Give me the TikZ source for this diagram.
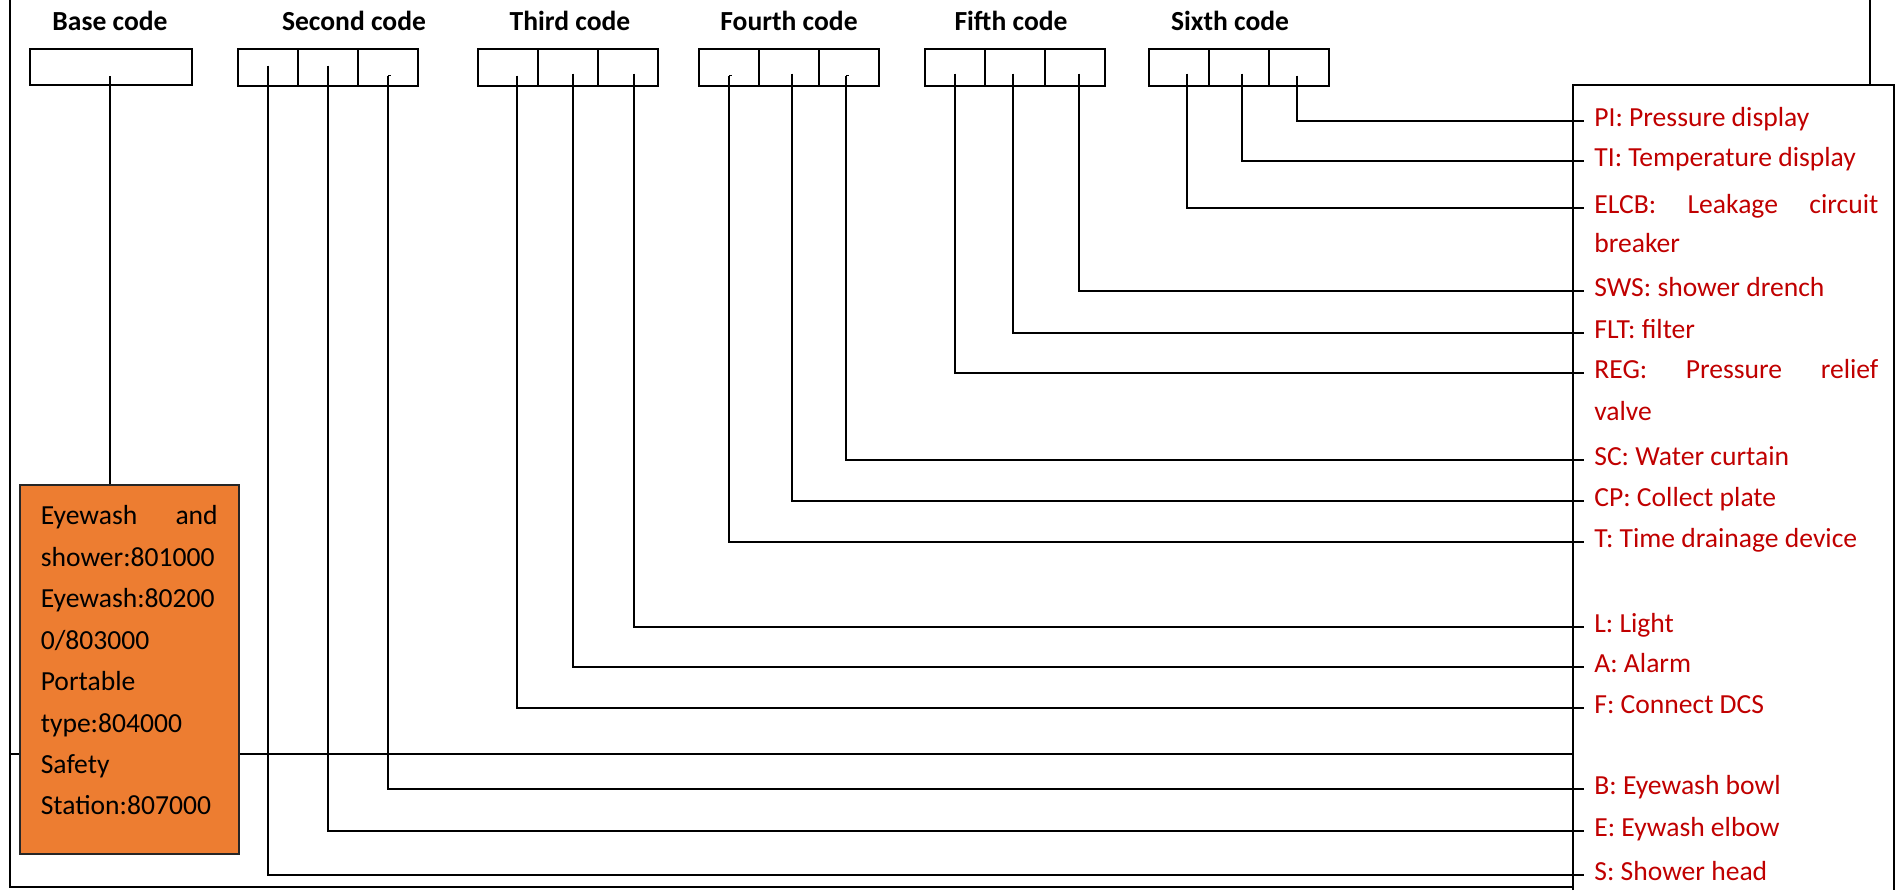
\documentclass[tikz,border=0pt]{standalone}
\usepackage{fontspec}
\setmainfont{Carlito}
\usetikzlibrary{positioning}
\definecolor{OptionRed} {HTML}{C00000}
\definecolor{BaseOrange}{HTML}{ED7D31}
\tikzset{
  codecell/.style={draw,line width=1.1pt,minimum width=1.2cm,minimum height=0.74cm,inner sep=0pt},
  codehead/.style={font=\fontsize{15.7}{23.6}\selectfont\bfseries,anchor=base},
  option/.style={text=OptionRed,anchor=west,inner xsep=0.2cm,inner ysep=0pt,
                 text height=0.8em,text depth=0.14em},
  lead/.style={line width=1.1pt},
  frame/.style={line width=1.1pt}
}
\begin{document}
\begin{tikzpicture}[x=0.02cm,y=-0.02cm,font=\fontsize{15.7}{23.6}\selectfont]
  \useasboundingbox (0,0) rectangle (1903,890);
  % table frame
  \draw[frame] (1870,0) -- (1870,85);
  \draw[frame] (10,0) -- (10,887) -- (1573,887);
  \draw[frame] (10,754) -- (1573,754);
  \draw[frame] (1573,890) -- (1573,85) -- (1894,85) -- (1894,890);

  % headers
  \node[codehead] (hbase) at (110,30)  {Base code};
  \node[codehead] (hsec)  at (354,30)  {Second code};
  \node[codehead] (hthi)  at (570,30)  {Third code};
  \node[codehead] (hfou)  at (789,30)  {Fourth code};
  \node[codehead] (hfif)  at (1011,30) {Fifth code};
  \node[codehead] (hsix)  at (1230,30) {Sixth code};

  % code cells
  \node[codecell,minimum width=3.24cm,minimum height=0.72cm] (base) at (111,67) {};
  \foreach \grp/\x in {sec/238,thi/478,fou/699,fif/925,six/1149}
    \foreach \i in {1,2,3}
      \node[codecell] (\grp\i) at (\x+60*\i-30,67.5) {};

  % options
  \node[option] (pi)    at (1584,121) {PI: Pressure display};
  \node[option] (ti)    at (1584,161) {TI: Temperature display};
  \node[option,text width=5.68cm,align=left] (elcb) at (1584,208) {ELCB:\hfill Leakage\hfill circuit};
  \node[option] (elcbmore) at (1584,247) {breaker};
  \node[option] (sws)   at (1584,291) {SWS: shower drench};
  \node[option] (flt)   at (1584,333) {FLT: filter};
  \node[option,text width=5.68cm,align=left] (reg) at (1584,373) {REG:\hfill Pressure\hfill relief};
  \node[option] (regmore) at (1584,415) {valve};
  \node[option] (sc)    at (1584,460) {SC: Water curtain};
  \node[option] (cp)    at (1584,501) {CP: Collect plate};
  \node[option] (tdd)   at (1584,542) {T: Time drainage device};
  \node[option] (light) at (1584,627) {L: Light};
  \node[option] (alarm) at (1584,667) {A: Alarm};
  \node[option] (dcs)   at (1584,708) {F: Connect DCS};
  \node[option] (bowl)  at (1584,789) {B: Eyewash bowl};
  \node[option] (elbow) at (1584,831) {E: Eywash elbow};
  \node[option] (head)  at (1584,875) {S: Shower head};

  % leads from the cells
  \foreach \cell/\dx/\dy/\lab in {six3/-2/8/pi,six2/3/6/ti,six1/8/6/elcb,
      fif3/4/6/sws,fif2/-2/6/flt,fif1/0/6/reg,
      fou3/-3/8/sc,fou2/3/6/cp,fou1/0/8/tdd,
      thi3/6/6/light,thi2/5/6/alarm,thi1/9/8/dcs,
      sec3/0/8/bowl,sec2/0/-2/elbow,sec1/0/-2/head}
    \draw[lead] ([shift={(\dx,\dy)}]\cell.center) |- (\lab.west);
  \draw[lead] ([shift={(0,8)}]sec3.center) -- ++(3,0);
  \draw[lead] ([shift={(0,8)}]fou1.center) -- ++(3,0);
  \draw[lead] ([shift={(-3,8)}]fou3.center) -- ++(3,0);

  % base code
  \node[draw=black!85,fill=BaseOrange,line width=0.9pt,anchor=north west,
        minimum width=4.38cm,minimum height=7.38cm,text width=3.54cm,
        inner xsep=0.42cm,align=left] (baseinfo) at (19,484)
    {Eyewash\hfill and\\shower:801000\\Eyewash:80200\\0/803000\\Portable\\
     type:804000\\Safety\\Station:807000\rule[-0.36cm]{0pt}{0.36cm}};
  \coordinate (basefoot) at ([shift={(-1,9)}]base.center);
  \draw[line width=1.7pt] (basefoot) -- (basefoot |- baseinfo.north);
\end{tikzpicture}
\end{document}
